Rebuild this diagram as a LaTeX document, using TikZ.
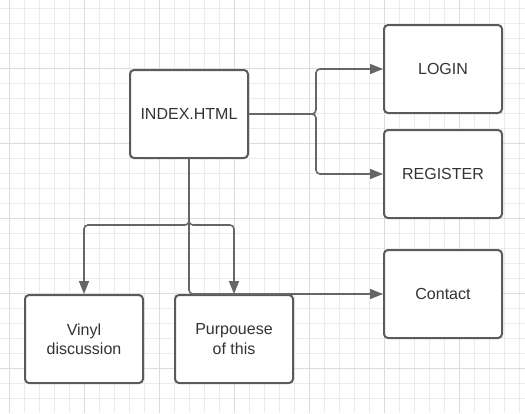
\documentclass[tikz,border=0pt]{standalone}
\usepackage{fontspec}
\setmainfont{Liberation Sans}
\usetikzlibrary{arrows.meta}
\definecolor{gridminor}{HTML}{EBEBEB}
\definecolor{gridmajor}{HTML}{DCDCDC}
\definecolor{boxline}{HTML}{5A5A5A}
\definecolor{conline}{HTML}{666666}
\definecolor{txt}{HTML}{333333}
\tikzset{
  pagebox/.style={draw=boxline, line width=2pt, fill=white, rounded corners=4pt,
    minimum width=118pt, minimum height=88pt, inner sep=0pt, align=center,
    text=txt, font=\fontsize{16pt}{19.2pt}\selectfont},
  conn/.style={draw=conline, line width=1.6pt, rounded corners=4pt,
    -{Triangle[length=13pt,width=10pt]}},
}
\begin{document}
\begin{tikzpicture}[x=1pt,y=-1pt]
\useasboundingbox (0,0) rectangle (525,413);
\fill[white] (0,0) rectangle (525,413);
% grid
\foreach \x in {9,24,...,524} {\draw[gridminor, line width=1pt] (\x,0) -- (\x,413);}
\foreach \y in {8,23,...,412} {\draw[gridminor, line width=1pt] (0,\y) -- (525,\y);}
\foreach \x in {9,84,...,524} {\draw[gridmajor, line width=1pt] (\x,0) -- (\x,413);}
\foreach \y in {68,143,...,412} {\draw[gridmajor, line width=1pt] (0,\y) -- (525,\y);}
% nodes
\node[pagebox] (index) at (189,114) {INDEX.HTML};
\node[pagebox] (login) at (443,69) {LOGIN};
\node[pagebox] (register) at (443,174) {REGISTER};
\node[pagebox] (contact) at (443,294) {Contact};
\node[pagebox] (vinyl) at (84,339) {Vinyl\\discussion};
\node[pagebox] (purp) at (234,339) {Purpouese\\of this};
% junctions
\coordinate (jr) at (316,114);
\coordinate (jd) at (189,225);
% connectors
\draw[conn] (index.east) -- (jr) |- (login.west);
\draw[conn] (index.east) -- (jr) |- (register.west);
\draw[conn] (index.south) -- (jd) -| (vinyl.north);
\draw[conn] (index.south) -- (jd) -| (purp.north);
\draw[conn] (index.south) |- (contact.west);
% redraw boxes on top so the contact line meets the purpouese box edge
\end{tikzpicture}
\end{document}
